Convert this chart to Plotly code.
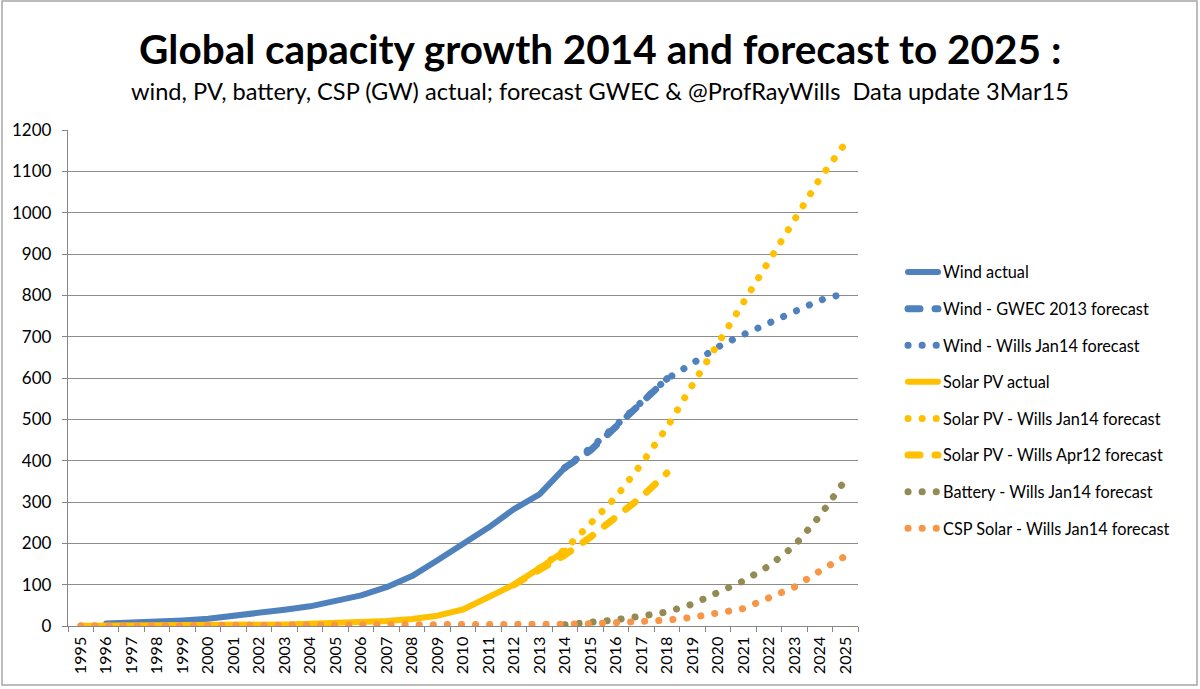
import plotly.graph_objects as go

# category axis 1995..2025
years = ["1995", "1996", "1997", "1998", "1999", "2000", "2001", "2002", "2003", "2004",
         "2005", "2006", "2007", "2008", "2009", "2010", "2011", "2012", "2013", "2014",
         "2015", "2016", "2017", "2018", "2019", "2020", "2021", "2022", "2023", "2024", "2025"]

wind_actual_years = years[1:20]
wind_actual = [6.1, 7.6, 10.2, 13.6, 17.4, 23.9, 31.1, 39.4, 47.6, 59.1,
               74.1, 93.9, 120.7, 159.1, 197.9, 238.1, 282.9, 318.6, 383]

wind_gwec_years = years[19:24]
wind_gwec = [383, 425, 482, 540, 598]

wind_wills_years = years[19:]
wind_wills = [383, 430, 485, 540, 598, 635, 675, 705, 733, 762, 788, 805]

solar_actual_years = years[0:20]
solar_actual = [0.6, 0.7, 0.9, 1.1, 1.4, 1.8, 2.3, 2.9, 3.8, 5.4,
                7.0, 9.5, 12, 17, 25, 40, 72, 100, 140, 182]

solar_jan14_years = years[18:]
solar_jan14 = [140, 185, 248, 312, 392, 480, 583, 682, 784, 883, 985, 1082, 1168]

solar_apr12_years = years[17:24]
solar_apr12 = [100, 135, 172, 215, 262, 312, 370]

battery_years = years[19:]
battery = [3, 8, 15, 24, 34, 53, 80, 109, 145, 194, 266, 353]

csp_years = years
csp = [0.4, 0.4, 0.4, 0.4, 0.4, 0.4, 0.4, 0.4, 0.4, 0.4,
       0.4, 0.4, 0.5, 0.6, 0.8, 1.3, 1.7, 2.6, 3.4, 4.4,
       5.5, 7, 9, 14, 21, 31, 42, 68, 94, 133, 169]

BLUE = "#4F81BD"
GOLD = "#FFC000"
OLIVE = "#948A54"
ORANGE = "#F79646"

DOT = "0.1px,14px"
DASH = "12px,15px"

FONT = "Lato"

W, H = 1200, 689
L, R, T, B = 68, 342, 130, 63
PW, PH = W - L - R, H - T - B


def px_x(x):
    return (x - L) / PW


def px_y(y):
    return (H - B - y) / PH


fig = go.Figure()

series = [
    ("Wind actual", wind_actual_years, wind_actual, BLUE, "solid", 6),
    ("Wind - GWEC 2013 forecast", wind_gwec_years, wind_gwec, BLUE, DASH, 7),
    ("Wind - Wills Jan14 forecast", wind_wills_years, wind_wills, BLUE, DOT, 7),
    ("Solar PV actual", solar_actual_years, solar_actual, GOLD, "solid", 6),
    ("Solar PV - Wills Jan14 forecast", solar_jan14_years, solar_jan14, GOLD, DOT, 7),
    ("Solar PV - Wills Apr12 forecast", solar_apr12_years, solar_apr12, GOLD, DASH, 7),
    ("Battery - Wills Jan14 forecast", battery_years, battery, OLIVE, DOT, 7),
    ("CSP Solar - Wills Jan14 forecast", csp_years, csp, ORANGE, DOT, 7),
]

for name, xs, ys, color, dash, width in series:
    fig.add_trace(go.Scatter(
        x=xs, y=ys, name=name, mode="lines", legendgroup=name,
        line=dict(color=color, width=width, dash=dash),
    ))

fig.update_layout(
    width=W, height=H,
    margin=dict(l=L, r=R, t=T, b=B, autoexpand=False),
    paper_bgcolor="white", plot_bgcolor="white",
    font=dict(family=FONT, color="black", size=15),
    showlegend=True,
    legend=dict(
        x=px_x(903), y=px_y(255), xanchor="left", yanchor="top",
        font=dict(size=16.3, family=FONT),
        traceorder="grouped", tracegroupgap=12.4,
        bgcolor="rgba(0,0,0,0)",
    ),
    xaxis=dict(
        type="category", categoryorder="array", categoryarray=years,
        range=[-0.5, len(years) - 0.5],
        tickangle=-90, tickson="boundaries", ticks="outside", ticklen=5,
        tickcolor="#868686", showline=True, linecolor="#868686", linewidth=1.3,
        showgrid=False, tickfont=dict(size=16.2, family=FONT),
        ticklabelstandoff=3,
    ),
    yaxis=dict(
        range=[0, 1200], dtick=100, ticks="outside", ticklen=5,
        tickcolor="#868686", showline=True, linecolor="#868686", linewidth=1.3,
        showgrid=True, gridcolor="#8C8C8C", gridwidth=1.3, zeroline=False,
        tickfont=dict(size=17, family=FONT), ticklabelstandoff=7,
    ),
    annotations=[
        dict(text="<b>Global capacity growth 2014 and forecast to 2025 :</b>",
             xref="paper", yref="paper", x=px_x(600), y=px_y(48),
             xanchor="center", yanchor="middle", showarrow=False,
             font=dict(size=40.5, family=FONT, color="black")),
        dict(text="wind, PV, battery, CSP (GW) actual; forecast GWEC &amp; @ProfRayWills  Data update 3Mar15",
             xref="paper", yref="paper", x=px_x(600), y=px_y(91),
             xanchor="center", yanchor="middle", showarrow=False,
             font=dict(size=23.6, family=FONT, color="black")),
    ],
    shapes=[
        dict(type="rect", xref="paper", yref="paper",
             x0=px_x(2), x1=px_x(1197), y0=px_y(685), y1=px_y(1),
             line=dict(color="#A6A6A6", width=1.5), layer="below"),
    ],
)

post = """
document.body.style.margin = '0';
var gd = document.getElementById('{plot_id}');
function rc() {
  gd.querySelectorAll('path.js-line').forEach(function (p) {
    p.style.strokeLinecap = 'round';
    p.style.strokeLinejoin = 'round';
  });
}
rc();
gd.on('plotly_afterplot', rc);
"""

fig.write_html("out.html", post_script=post, config={"displayModeBar": False})
